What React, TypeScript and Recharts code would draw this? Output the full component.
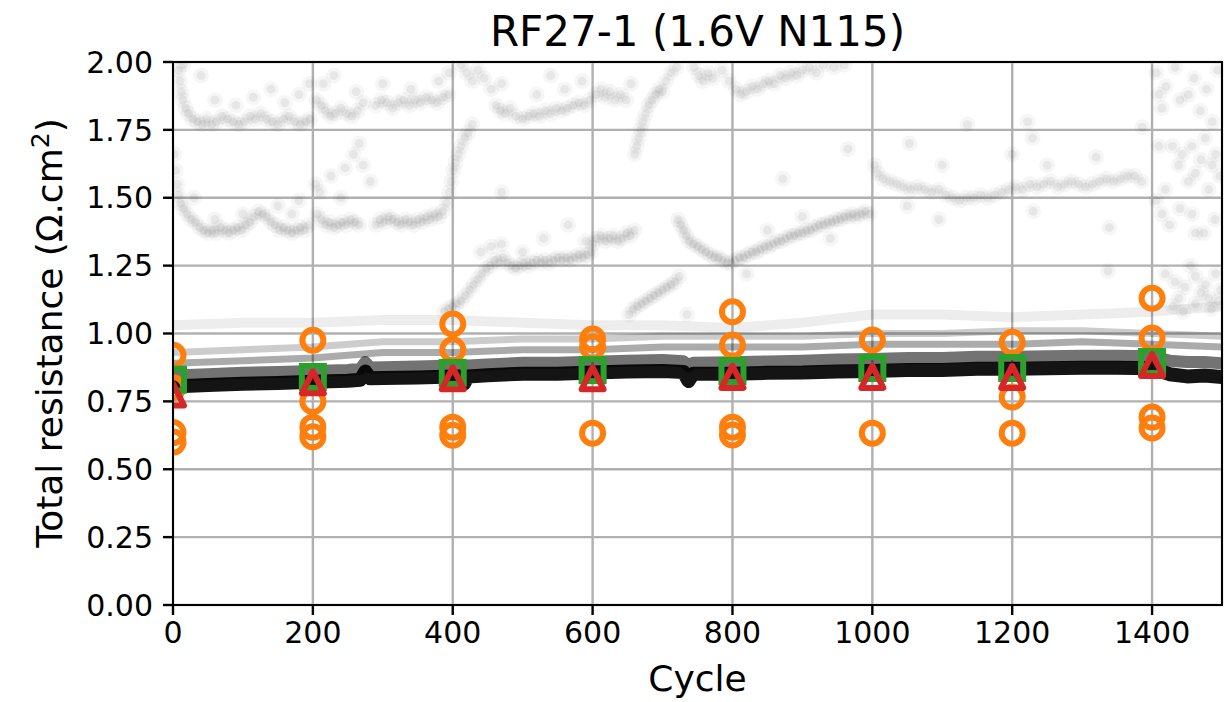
import React from 'react';
import { ComposedChart, Scatter, Line, XAxis, YAxis, CartesianGrid } from 'recharts';

const FONT = '"DejaVu Sans", sans-serif';

const xTicks = [0, 200, 400, 600, 800, 1000, 1200, 1400];
const yTicks = [0, 0.25, 0.5, 0.75, 1, 1.25, 1.5, 1.75, 2];

// dense band of raw readings (drawn as stacked translucent strokes)
const bandCycles = [0, 50, 100, 150, 200, 250, 268, 275, 282, 300, 350, 400, 410, 416, 422, 450, 500, 550, 600, 650, 700, 730, 737, 744, 800, 850, 900, 950, 1000, 1050, 1100, 1150, 1200, 1250, 1300, 1350, 1400, 1425, 1450, 1475, 1500];
const bandCore = [0.805, 0.81, 0.815, 0.818, 0.822, 0.826, 0.83, 0.86, 0.835, 0.836, 0.838, 0.842, 0.842, 0.815, 0.842, 0.846, 0.852, 0.852, 0.856, 0.86, 0.862, 0.858, 0.825, 0.852, 0.852, 0.855, 0.856, 0.86, 0.862, 0.866, 0.866, 0.87, 0.87, 0.872, 0.874, 0.874, 0.872, 0.85, 0.842, 0.845, 0.84];
const bandMid = [0.845, 0.85, 0.855, 0.858, 0.862, 0.866, 0.87, 0.895, 0.875, 0.876, 0.878, 0.882, 0.882, 0.87, 0.882, 0.886, 0.892, 0.892, 0.896, 0.9, 0.902, 0.898, 0.88, 0.892, 0.894, 0.897, 0.9, 0.904, 0.906, 0.91, 0.91, 0.914, 0.914, 0.916, 0.918, 0.918, 0.916, 0.9, 0.895, 0.895, 0.89];

const layerCycles = [0, 100, 200, 300, 400, 500, 600, 700, 800, 900, 1000, 1100, 1200, 1300, 1400, 1500];
const layerLow = [0.89, 0.9, 0.91, 0.93, 0.93, 0.94, 0.94, 0.95, 0.95, 0.95, 0.96, 0.96, 0.96, 0.97, 0.96, 0.95];
const layerHigh = [0.93, 0.94, 0.95, 0.97, 0.97, 0.98, 0.98, 0.99, 0.99, 0.99, 1.0, 1.0, 1.01, 1.01, 1.0, 0.99];
const layerFaint = [1.03, 1.04, 1.04, 1.05, 1.05, 1.04, 1.03, 1.03, 1.02, 1.04, 1.07, 1.07, 1.06, 1.07, 1.08, 1.1];

// sparse high readings, [cycle, value]
const trackUpper: [number, number][] = [
  [8, 1.97], [10, 1.93], [12, 1.89], [14, 1.86], [18, 1.83], [22, 1.81], [28, 1.79], [35, 1.78], [42, 1.77], [48, 1.79], [55, 1.77], [62, 1.78], [70, 1.8], [78, 1.79], [86, 1.78], [94, 1.77], [102, 1.78], [110, 1.8], [118, 1.79], [126, 1.81], [134, 1.79], [142, 1.78], [150, 1.77], [158, 1.79], [166, 1.8], [174, 1.78], [182, 1.77], [190, 1.78], [196, 1.79],
  [15, 1.99], [40, 1.95], [60, 1.86], [90, 1.84], [115, 1.87], [140, 1.9], [160, 1.85], [180, 1.88], [195, 1.92],
  [205, 1.86], [212, 1.84], [218, 1.82], [225, 1.8], [232, 1.81], [240, 1.83], [248, 1.81], [256, 1.8], [264, 1.82], [272, 1.85], [215, 1.92], [230, 1.95], [262, 1.89],
  [290, 1.84], [298, 1.86], [306, 1.85], [314, 1.83], [322, 1.85], [330, 1.86], [338, 1.84], [346, 1.86], [354, 1.85], [362, 1.87], [370, 1.86], [378, 1.85], [386, 1.87], [394, 1.88], [300, 1.92], [340, 1.9], [380, 1.93], [395, 1.96],
  [412, 1.99], [420, 1.96], [428, 1.93], [436, 1.97], [445, 1.94], [455, 1.9], [462, 1.84], [468, 1.82], [475, 1.81], [482, 1.83], [490, 1.8], [500, 1.79], [508, 1.8], [516, 1.81], [524, 1.8], [532, 1.82], [540, 1.81], [548, 1.83], [556, 1.82], [564, 1.83], [572, 1.84], [580, 1.85], [588, 1.84], [596, 1.86], [520, 1.88], [560, 1.9], [585, 1.93], [470, 1.92],
  [605, 1.88], [612, 1.9], [618, 1.87], [625, 1.89], [632, 1.86], [640, 1.88], [648, 1.86], [655, 1.92], [660, 1.66], [663, 1.69], [666, 1.72], [669, 1.75], [672, 1.78], [676, 1.81], [680, 1.84], [685, 1.86], [690, 1.88], [695, 1.9], [700, 1.89], [705, 1.93], [712, 1.96], [720, 1.98],
  [745, 1.98], [752, 1.95], [758, 1.93], [765, 1.96], [772, 1.94], [785, 1.97], [795, 1.93], [805, 1.9], [812, 1.88], [820, 1.89], [828, 1.91], [836, 1.9], [844, 1.92], [852, 1.93], [860, 1.92], [868, 1.95], [876, 1.94], [884, 1.96], [892, 1.95], [900, 1.97], [910, 1.98], [920, 1.96], [930, 1.99], [945, 1.98], [960, 1.99],
];

const trackFourteen: [number, number][] = [
  [2, 1.66], [4, 1.6], [6, 1.55], [8, 1.51], [11, 1.48], [15, 1.46], [20, 1.44], [26, 1.42], [32, 1.41], [38, 1.39], [44, 1.38], [50, 1.37], [56, 1.38], [62, 1.37], [68, 1.39], [74, 1.38], [80, 1.37], [86, 1.38], [92, 1.39], [98, 1.38], [104, 1.4], [110, 1.41], [116, 1.43], [122, 1.45], [128, 1.44], [134, 1.43], [140, 1.41], [146, 1.4], [152, 1.38], [158, 1.39], [164, 1.38], [170, 1.37], [176, 1.38], [182, 1.39], [188, 1.38], [194, 1.4],
  [60, 1.42], [100, 1.44], [150, 1.47], [170, 1.44], [30, 1.5],
  [206, 1.44], [212, 1.42], [218, 1.4], [224, 1.41], [230, 1.39], [236, 1.4], [242, 1.41], [248, 1.4], [254, 1.42], [260, 1.41], [266, 1.4], [290, 1.4], [296, 1.42], [302, 1.41], [308, 1.43], [314, 1.42], [320, 1.41], [326, 1.4], [332, 1.42], [338, 1.41], [344, 1.4], [350, 1.42], [356, 1.41], [362, 1.43], [368, 1.42], [374, 1.44], [380, 1.43], [386, 1.45],
  [391, 1.48], [395, 1.52], [398, 1.56], [401, 1.6], [404, 1.63], [408, 1.66], [412, 1.69], [417, 1.72], [422, 1.74], [428, 1.77],
  [204, 1.55], [210, 1.52], [226, 1.58], [246, 1.61], [258, 1.66], [266, 1.7], [272, 1.62], [282, 1.56], [240, 1.5], [180, 1.49],
];

const trackTwelve: [number, number][] = [
  [388, 1.08], [394, 1.09], [400, 1.1], [406, 1.11], [412, 1.12], [418, 1.14], [424, 1.16], [430, 1.18], [436, 1.2], [442, 1.22], [448, 1.24], [454, 1.25], [460, 1.27], [466, 1.26], [472, 1.28], [478, 1.26], [484, 1.25], [490, 1.24], [496, 1.25], [502, 1.26], [508, 1.25], [514, 1.26], [520, 1.27], [526, 1.26], [532, 1.27], [538, 1.26], [544, 1.27], [550, 1.28], [556, 1.27], [562, 1.28], [568, 1.27], [574, 1.28], [580, 1.29], [586, 1.28], [592, 1.29], [598, 1.3],
  [470, 1.33], [500, 1.3], [530, 1.35], [565, 1.4], [590, 1.34], [440, 1.3], [455, 1.32],
  [600, 1.33], [606, 1.35], [612, 1.36], [618, 1.34], [624, 1.35], [630, 1.36], [636, 1.34], [642, 1.35], [648, 1.37], [654, 1.36], [660, 1.38],
  [652, 1.07], [658, 1.09], [664, 1.1], [670, 1.11], [676, 1.12], [682, 1.13], [688, 1.14], [694, 1.15], [700, 1.16], [706, 1.17], [712, 1.18], [718, 1.19], [724, 1.21], [735, 1.07],
];

const trackRising: [number, number][] = [
  [722, 1.42], [726, 1.4], [730, 1.38], [734, 1.36], [738, 1.34], [744, 1.33], [750, 1.32], [756, 1.31], [762, 1.3], [768, 1.29], [774, 1.28], [780, 1.28], [786, 1.27], [792, 1.26], [798, 1.26], [804, 1.27], [810, 1.28], [816, 1.28], [822, 1.29], [828, 1.3], [834, 1.3], [840, 1.31], [846, 1.32], [852, 1.32], [858, 1.33], [864, 1.34], [870, 1.34], [876, 1.35], [882, 1.36], [888, 1.36], [894, 1.37], [900, 1.37], [906, 1.38], [912, 1.38], [918, 1.39], [924, 1.4], [930, 1.4], [936, 1.41], [942, 1.41], [948, 1.42], [954, 1.42], [960, 1.43], [966, 1.43], [972, 1.44], [978, 1.43], [984, 1.44], [990, 1.45], [996, 1.44],
  [850, 1.38], [900, 1.43], [940, 1.35], [820, 1.22],
];

const trackFifteen: [number, number][] = [
  [1003, 1.62], [1008, 1.59], [1015, 1.57], [1025, 1.56], [1035, 1.55], [1045, 1.54], [1055, 1.53], [1065, 1.54], [1075, 1.53], [1085, 1.52], [1095, 1.53], [1105, 1.51], [1115, 1.5], [1125, 1.49], [1135, 1.5], [1145, 1.5], [1155, 1.51], [1165, 1.5], [1175, 1.51], [1185, 1.52], [1195, 1.53], [1205, 1.54], [1215, 1.53], [1225, 1.55], [1235, 1.54], [1245, 1.55], [1255, 1.56], [1265, 1.54], [1275, 1.55], [1285, 1.56], [1295, 1.55], [1305, 1.54], [1315, 1.55], [1325, 1.56], [1335, 1.57], [1345, 1.56], [1355, 1.57], [1365, 1.58], [1375, 1.58], [1385, 1.56],
  [1050, 1.47], [1100, 1.62], [1250, 1.62], [1320, 1.65], [1230, 1.45], [1200, 1.66],
];

const trackEnd: [number, number][] = [
  [1406, 1.96], [1410, 1.88], [1414, 1.83], [1420, 1.91], [1433, 1.98], [1440, 1.86], [1452, 1.88], [1460, 1.94], [1469, 1.82], [1478, 1.9], [1486, 1.78], [1494, 1.97],
  [1410, 1.69], [1419, 1.53], [1429, 1.69], [1438, 1.62], [1443, 1.66], [1452, 1.56], [1457, 1.69], [1462, 1.59], [1470, 1.64], [1476, 1.72], [1481, 1.53], [1486, 1.62], [1491, 1.66], [1497, 1.58],
  [1406, 1.49], [1414, 1.44], [1425, 1.4], [1440, 1.46], [1457, 1.44], [1462, 1.37], [1474, 1.37], [1490, 1.42],
  [1419, 1.22], [1433, 1.19], [1438, 1.13], [1447, 1.17], [1455, 1.25], [1462, 1.21], [1462, 1.11], [1470, 1.15], [1476, 1.18], [1481, 1.13], [1491, 1.22], [1498, 1.16], [1445, 1.08], [1485, 1.09], [1430, 1.1], [1495, 1.12],
];

const strays: [number, number][] = [
  [1136, 1.77], [1222, 1.78], [1229, 1.72], [1386, 1.76], [1053, 1.7], [965, 1.68], [872, 1.57], [1095, 1.42], [1339, 1.39], [1337, 1.23], [540, 1.95], [470, 1.52],
];

// fitted / extracted values every 200 cycles
const orangeRings: [number, number][] = [
  [0, 0.92], [0, 0.8], [0, 0.635], [0, 0.6],
  [200, 0.975], [200, 0.75], [200, 0.655], [200, 0.62],
  [400, 1.035], [400, 0.94], [400, 0.655], [400, 0.625],
  [600, 0.98], [600, 0.95], [600, 0.633],
  [800, 1.08], [800, 0.957], [800, 0.655], [800, 0.626],
  [1000, 0.976], [1000, 0.633],
  [1200, 0.968], [1200, 0.766], [1200, 0.633],
  [1400, 1.13], [1400, 0.983], [1400, 0.692], [1400, 0.652],
];
const greenCycles = [0, 200, 400, 600, 800, 1000, 1200, 1400];
const greenValues = [0.83, 0.84, 0.855, 0.865, 0.862, 0.873, 0.873, 0.895];
const redCycles = [0, 200, 400, 600, 800, 1000, 1200, 1400];
const redValues = [0.775, 0.82, 0.835, 0.835, 0.84, 0.84, 0.84, 0.884];

const pts = (pairs: [number, number][]) => pairs.map(([x, y]) => ({ x, y }));
const zipped = (xs: number[], ys: number[]) => xs.map((x, i) => ({ x, y: ys[i] }));

// faint translucent marker, with a soft halo so that neighbours merge into a cloud
const GrayDot = (p: any) => (
  <g>
    <circle cx={p.cx} cy={p.cy} r={8} fill="#000" fillOpacity={0.035} />
    <circle cx={p.cx} cy={p.cy} r={4.5} fill="#000" fillOpacity={0.06} />
  </g>
);
const Ring = (p: any) => (
  <circle cx={p.cx} cy={p.cy} r={10.5} fill="none" stroke="#ff7f0e" strokeWidth={6} />
);
const Square = (p: any) => (
  <rect x={p.cx - 11} y={p.cy - 11} width={22} height={22} fill="none" stroke="#2ca02c" strokeWidth={6} />
);
const Triangle = (p: any) => (
  <path
    d={`M${p.cx},${p.cy - 11}L${p.cx + 11},${p.cy + 11}L${p.cx - 11},${p.cy + 11}Z`}
    fill="none"
    stroke="#d62728"
    strokeWidth={6}
    strokeLinejoin="round"
  />
);

const bandLines = [
  { id: 'faint', cycles: layerCycles, vals: layerFaint, w: 10, op: 0.07 },
  { id: 'high', cycles: layerCycles, vals: layerHigh, w: 7, op: 0.2 },
  { id: 'low', cycles: layerCycles, vals: layerLow, w: 7, op: 0.33 },
  { id: 'mid', cycles: bandCycles, vals: bandMid, w: 12, op: 0.55 },
  { id: 'core', cycles: bandCycles, vals: bandCore, w: 14, op: 0.92 },
];

const App = () => {
  const tickStyle = { fill: '#000', fontSize: 30, fontFamily: FONT };
  return (
    <div style={{ position: 'absolute', left: 0, top: 0, width: 1227, height: 702, background: '#fff', fontFamily: FONT }}>
      <ComposedChart width={1227} height={702} margin={{ top: 62, right: 5, left: 0, bottom: 0 }}>
        <XAxis
          type="number"
          dataKey="x"
          domain={[0, 1500]}
          ticks={xTicks}
          interval={0}
          allowDataOverflow
          height={97}
          axisLine={false}
          tickLine={{ stroke: '#000', strokeWidth: 2.4 }}
          tickSize={10}
          tickMargin={7}
          tick={tickStyle}
        />
        <YAxis
          type="number"
          dataKey="y"
          domain={[0, 2]}
          ticks={yTicks}
          interval={0}
          allowDataOverflow
          width={173}
          axisLine={false}
          tickLine={{ stroke: '#000', strokeWidth: 2.4 }}
          tickSize={10}
          tickMargin={10}
          tick={tickStyle}
          tickFormatter={(v: number) => v.toFixed(2)}
        />
        {bandLines.map((b) => (
          <Line
            key={b.id}
            data={zipped(b.cycles, b.vals)}
            dataKey="y"
            type="linear"
            stroke="#000"
            strokeOpacity={b.op}
            strokeWidth={b.w}
            strokeLinejoin="round"
            dot={false}
            activeDot={false}
            isAnimationActive={false}
          />
        ))}
        <Scatter data={pts(trackUpper)} dataKey="y" shape={GrayDot} isAnimationActive={false} />
        <Scatter data={pts(trackFourteen)} dataKey="y" shape={GrayDot} isAnimationActive={false} />
        <Scatter data={pts(trackTwelve)} dataKey="y" shape={GrayDot} isAnimationActive={false} />
        <Scatter data={pts(trackRising)} dataKey="y" shape={GrayDot} isAnimationActive={false} />
        <Scatter data={pts(trackFifteen)} dataKey="y" shape={GrayDot} isAnimationActive={false} />
        <Scatter data={pts(trackEnd)} dataKey="y" shape={GrayDot} isAnimationActive={false} />
        <Scatter data={pts(strays)} dataKey="y" shape={GrayDot} isAnimationActive={false} />
        <CartesianGrid stroke="#b0b0b0" strokeWidth={2.4} />
        <Scatter data={pts(orangeRings)} dataKey="y" shape={Ring} isAnimationActive={false} />
        <Scatter data={zipped(greenCycles, greenValues)} dataKey="y" shape={Square} isAnimationActive={false} />
        <Scatter data={zipped(redCycles, redValues)} dataKey="y" shape={Triangle} isAnimationActive={false} />
      </ComposedChart>
      <div
        style={{
          position: 'absolute', left: 171.8, top: 60.8, width: 1051.4, height: 545.4,
          border: '2.4px solid #000', boxSizing: 'border-box', pointerEvents: 'none',
        }}
      />
      <div
        style={{
          position: 'absolute', left: 173, top: 11, width: 1049, textAlign: 'center',
          fontSize: 42, lineHeight: '42px', color: '#000', whiteSpace: 'nowrap',
        }}
      >
        RF27-1 (1.6V N115)
      </div>
      <div
        style={{
          position: 'absolute', left: 173, top: 661, width: 1049, textAlign: 'center',
          fontSize: 36, lineHeight: '36px', color: '#000',
        }}
      >
        Cycle
      </div>
      <div
        style={{
          position: 'absolute', left: -200.5, top: 315, width: 500, height: 36, textAlign: 'center',
          fontSize: 36, lineHeight: '36px', color: '#000', transform: 'rotate(-90deg)', whiteSpace: 'nowrap',
        }}
      >
        Total resistance (Ω.cm<sup style={{ fontSize: 25, lineHeight: 0, verticalAlign: 'super' }}>2</sup>)
      </div>
    </div>
  );
};

export default App;
